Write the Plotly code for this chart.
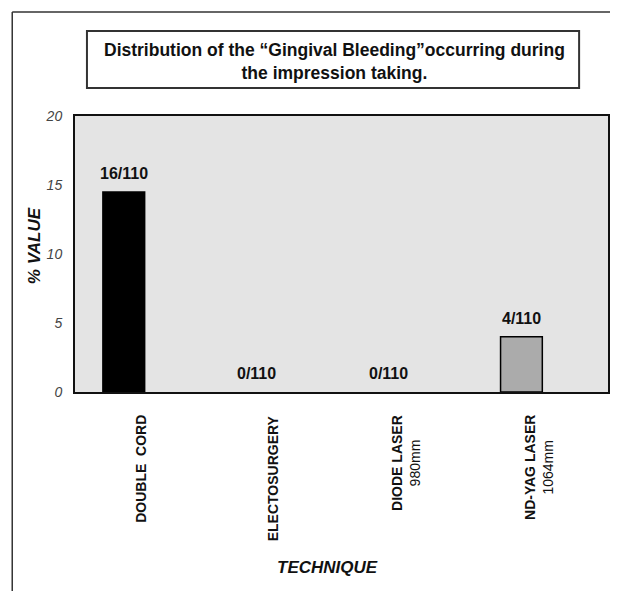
import plotly.graph_objects as go

# ---- data ----
categories = ["DOUBLE CORD", "ELECTOSURGERY", "DIODE LASER", "ND-YAG LASER"]
sublabels = ["", "", "980mm", "1064mm"]
values = [14.5, 0.0, 0.0, 4.0]          # % value
counts = ["16/110", "0/110", "0/110", "4/110"]
bar_colors = ["#000000", "#000000", "#000000", "#ababab"]
y_ticks = [0, 5, 10, 15, 20]

OFF = 8                      # page body margin
W, H = 610, 583
L, T = 67, 108
PW, PH = 535, 276
R = W - L - PW
B = H - T - PH


def px_x(px):
    """reference-window pixel x -> paper coordinate"""
    return (px - OFF - L) / PW


def px_y(py):
    """reference-window pixel y -> paper coordinate"""
    return (T + PH - (py - OFF)) / PH


FONT = "Liberation Sans, Arial, sans-serif"

fig = go.Figure()
fig.add_trace(go.Bar(
    x=categories, y=values,
    width=0.315,
    marker=dict(color=bar_colors,
                line=dict(color="#000000", width=[1.5 if v > 0 else 0 for v in values])),
    hoverinfo="skip",
))

annotations = []
# value labels above bars
for c, v, t in zip(categories, values, counts):
    annotations.append(dict(
        x=c, y=v, xref="x", yref="y", text=f"<b>{t}</b>", showarrow=False,
        xanchor="center", yanchor="bottom", yshift=8,
        font=dict(family=FONT, size=16, color="#111111"),
    ))
# rotated category labels
for c, s in zip(categories, sublabels):
    lab = c.replace("DOUBLE CORD", "DOUBLE&nbsp; CORD")
    txt = f"<b>{lab}</b>" + (f"<br>{s}" if s else "")
    annotations.append(dict(
        x=c, y=px_y(413), xref="x", yref="paper", text=txt, showarrow=False,
        textangle=-90, yanchor="top", xanchor="center", xshift=17, align="center",
        font=dict(family=FONT, size=14, color="#111111"),
    ))
# axis titles
annotations.append(dict(
    x=px_x(328), y=px_y(567), xref="paper", yref="paper", text="<b><i>TECHNIQUE</i></b>",
    showarrow=False, xanchor="center", yanchor="middle",
    font=dict(family=FONT, size=17, color="#111111"),
))
annotations.append(dict(
    x=px_x(34), y=px_y(246), xref="paper", yref="paper", text="<b><i>% VALUE</i></b>",
    showarrow=False, textangle=-90, xanchor="center", yanchor="middle",
    font=dict(family=FONT, size=17, color="#111111"),
))
# title inside a box
annotations.append(dict(
    x=px_x(335), y=px_y(61), xref="paper", yref="paper",
    text="<b>Distribution of the \u201cGingival Bleeding\u201doccurring during<br>the impression taking.</b>",
    showarrow=False, align="center", xanchor="center", yanchor="middle",
    font=dict(family=FONT, size=17.5, color="#111111"),
))

shapes = [
    # title box
    dict(type="rect", xref="paper", yref="paper", x0=px_x(87), x1=px_x(581),
         y0=px_y(88), y1=px_y(31), line=dict(color="#333333", width=2)),
    # outer frame lines (left and top)
    dict(type="line", xref="paper", yref="paper", x0=px_x(12), x1=px_x(12),
         y0=px_y(12), y1=px_y(620), line=dict(color="#333333", width=1.5)),
    dict(type="line", xref="paper", yref="paper", x0=px_x(12), x1=px_x(640),
         y0=px_y(12), y1=px_y(12), line=dict(color="#333333", width=1.5)),
]

fig.update_layout(
    width=W, height=H,
    margin=dict(l=L, r=R, t=T, b=B, pad=0),
    paper_bgcolor="#ffffff",
    plot_bgcolor="#e4e4e4",
    showlegend=False,
    annotations=annotations,
    shapes=shapes,
    xaxis=dict(
        range=[-0.368, 3.653], showticklabels=False, ticks="",
        showgrid=False, zeroline=False,
        showline=True, linecolor="#111111", linewidth=2, mirror=True,
    ),
    yaxis=dict(
        range=[0, 20], tickvals=y_ticks, ticktext=[f"<i>{v}</i>" for v in y_ticks],
        ticks="", showgrid=False, zeroline=False,
        showline=True, linecolor="#111111", linewidth=2, mirror=True,
        tickfont=dict(family=FONT, size=14, color="#444444"), ticklabelstandoff=8,
    ),
)

fig.write_html("out.html")
